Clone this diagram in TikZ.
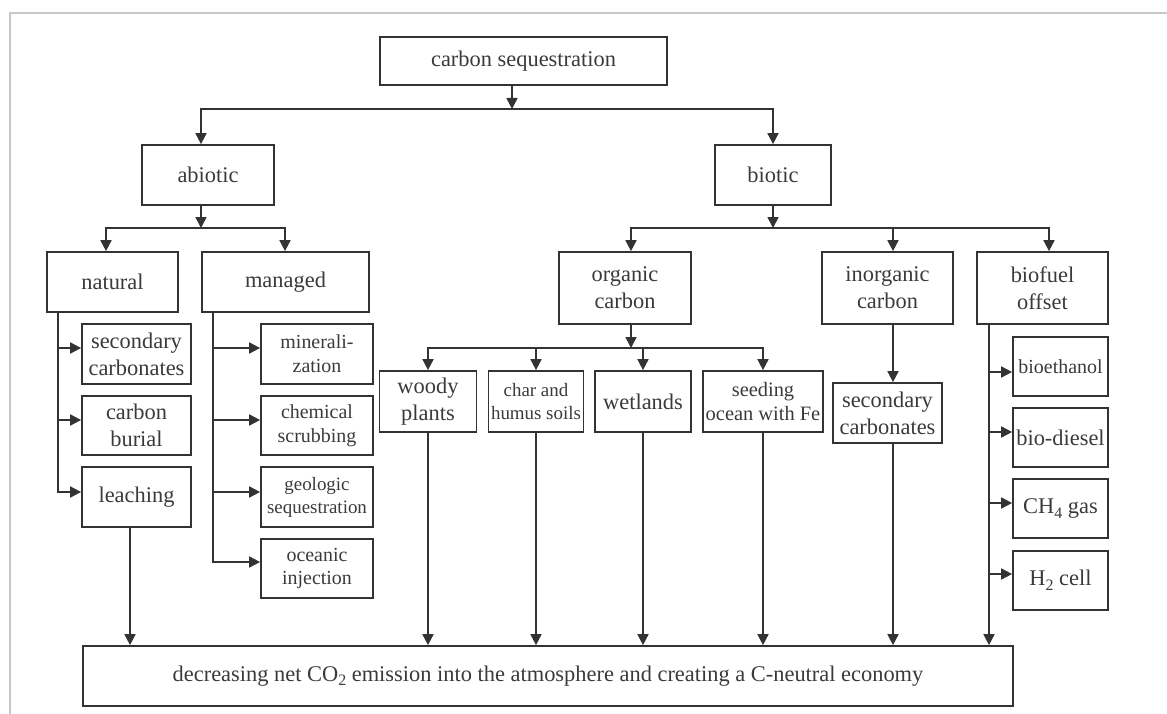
\documentclass[tikz,border=0pt]{standalone}
\usepackage{fontspec}
\setmainfont{Liberation Serif}
\usetikzlibrary{arrows.meta}
\definecolor{linec}{HTML}{333333}
\definecolor{textc}{HTML}{3A3A3A}
\definecolor{framec}{HTML}{C8C8C8}
% chemical subscript: a little larger and lower than \textsubscript
\newcommand{\chemsub}[1]{\raisebox{-0.45ex}{\fontsize{16}{16}\selectfont #1}}

\begin{document}
\begin{tikzpicture}[x=1bp,y=-1bp,
  box/.style={draw=linec, line width=1.7bp, inner sep=0pt, align=center,
    text=textc, font=\fontsize{22.5}{27}\selectfont},
  sz/.style 2 args={minimum width=#1bp, minimum height=#2bp},
  smalltext/.style={font=\fontsize{20}{24}\selectfont},
  tinytext/.style={font=\fontsize{19}{23}\selectfont},
  link/.style={draw=linec, line width=1.7bp, line cap=rect},
  arr/.style={link, -{Triangle[length=11bp,width=11bp]}},
  ]
\useasboundingbox (0,0) rectangle (1167,714);

% page frame
\draw[framec, line width=2bp] (10,714) -- (10,13) -- (1167,13);

% ---------- boxes ----------
\node[box, sz={287}{48}] (root) at (523.5,61) {carbon sequestration};

\node[box, sz={132}{60}] (abiotic) at (208,175) {abiotic};
\node[box, sz={116}{60}] (biotic) at (773,175) {biotic};

\node[box, sz={131}{60}] (natural) at (112.5,282) {natural};
\node[box, sz={167}{60}] (managed) at (285.5,282) {managed};

\node[box, sz={109}{60}] (sc1) at (136.5,354) {secondary\\carbonates};
\node[box, sz={109}{59}] (burial) at (136.5,425.5) {carbon\\burial};
\node[box, sz={109}{60}] (leaching) at (136.5,497) {leaching};

\node[box, smalltext, sz={112}{60}] (mineral) at (317,354) {minerali-\\zation};
\node[box, smalltext, sz={112}{59}] (chem) at (317,425.5) {chemical\\scrubbing};
\node[box, tinytext, sz={112}{60}] (geol) at (317,497) {geologic\\sequestration};
\node[box, smalltext, sz={112}{59}] (ocean) at (317,568.5) {oceanic\\injection};

\node[box, sz={132}{72}] (organic) at (625,288) {organic\\carbon};
\node[box, sz={131}{72}] (inorganic) at (887.5,288) {inorganic\\carbon};
\node[box, sz={131}{72}] (biofuel) at (1042.5,288) {biofuel\\offset};

\node[box, sz={97}{61}] (woody) at (428,401.5) {woody\\plants};
\node[box, tinytext, sz={95}{61}] (char) at (536,401.5) {char and\\humus soils};
\node[box, sz={96}{61}] (wetlands) at (643,401.5) {wetlands};
\node[box, font=\fontsize{20.5}{24}\selectfont, sz={120}{61}] (seeding) at (763,401.5) {seeding\\ocean with Fe};

\node[box, sz={109}{60}] (sc2) at (887.5,413) {secondary\\carbonates};

\node[box, smalltext, sz={95}{59}] (bioeth) at (1060.5,366.5) {bioethanol};
\node[box, sz={95}{59}] (biodiesel) at (1060.5,437.5) {bio-diesel};
\node[box, sz={95}{59}] (ch4) at (1060.5,508.5) {CH\chemsub{4} gas};
\node[box, sz={95}{59}] (h2) at (1060.5,580.5) {H\chemsub{2} cell};

\node[box, sz={930}{60}] (bottom) at (548,676)
  {decreasing net CO\chemsub{2} emission into the atmosphere and creating a C-neutral economy};

% ---------- junction points ----------
\coordinate (jTop) at (512,109);
\coordinate (jA) at (201,109);
\coordinate (jB) at (773,109);
\coordinate (jA2) at (201,228);
\coordinate (jNat) at (106,228);
\coordinate (jMan) at (285,228);
\coordinate (jB2) at (773,228);
\coordinate (jO1) at (631,228);
\coordinate (jI) at (893,228);
\coordinate (jF) at (1049,228);
\coordinate (jO) at (631,348);
\coordinate (tN1) at (58,348);
\coordinate (tN2) at (58,420);
\coordinate (tN3) at (58,492);
\coordinate (tM1) at (213,348);
\coordinate (tM2) at (213,420);
\coordinate (tM3) at (213,492);
\coordinate (tM4) at (213,562);
\coordinate (tF1) at (989,372);
\coordinate (tF2) at (989,432);
\coordinate (tF3) at (989,503);
\coordinate (tF4) at (989,574);
\coordinate (xL) at (130,600);

% ---------- connectors ----------
% top level
\draw[arr] (root.south -| jTop) -- (jTop);
\draw[link] (jA) -- (jB);
\draw[arr] (jA) -- (abiotic.north -| jA);
\draw[arr] (jB) -- (biotic.north -| jB);

% abiotic branch
\draw[arr] (abiotic.south -| jA2) -- (jA2);
\draw[link] (jNat) -- (jMan);
\draw[arr] (jNat) -- (natural.north -| jNat);
\draw[arr] (jMan) -- (managed.north -| jMan);

% natural
\draw[link] (natural.south -| tN1) -- (tN3);
\draw[arr] (tN1) -- (sc1.west |- tN1);
\draw[arr] (tN2) -- (burial.west |- tN2);
\draw[arr] (tN3) -- (leaching.west |- tN3);

% managed
\draw[link] (managed.south -| tM1) -- (tM4);
\draw[arr] (tM1) -- (mineral.west |- tM1);
\draw[arr] (tM2) -- (chem.west |- tM2);
\draw[arr] (tM3) -- (geol.west |- tM3);
\draw[arr] (tM4) -- (ocean.west |- tM4);

% biotic branch
\draw[arr] (biotic.south) -- (jB2);
\draw[link] (jO1) -- (jF);
\draw[arr] (jO1) -- (organic.north -| jO1);
\draw[arr] (jI) -- (inorganic.north -| jI);
\draw[arr] (jF) -- (biofuel.north -| jF);

% organic carbon
\draw[arr] (organic.south -| jO) -- (jO);
\draw[link] (woody.north |- jO) -- (seeding.north |- jO);
\draw[arr] (woody.north |- jO) -- (woody.north);
\draw[arr] (char.north |- jO) -- (char.north);
\draw[arr] (wetlands.north |- jO) -- (wetlands.north);
\draw[arr] (seeding.north |- jO) -- (seeding.north);

% inorganic carbon
\draw[arr] (inorganic.south -| jI) -- (sc2.north -| jI);

% biofuel offset
\draw[arr] (biofuel.south -| tF1) -- (bottom.north -| tF1);
\draw[arr] (tF1) -- (bioeth.west |- tF1);
\draw[arr] (tF2) -- (biodiesel.west |- tF2);
\draw[arr] (tF3) -- (ch4.west |- tF3);
\draw[arr] (tF4) -- (h2.west |- tF4);

% into the common outcome
\draw[arr] (leaching.south -| xL) -- (bottom.north -| xL);
\draw[arr] (woody.south) -- (bottom.north -| woody.south);
\draw[arr] (char.south) -- (bottom.north -| char.south);
\draw[arr] (wetlands.south) -- (bottom.north -| wetlands.south);
\draw[arr] (seeding.south) -- (bottom.north -| seeding.south);
\draw[arr] (sc2.south -| jI) -- (bottom.north -| jI);

\end{tikzpicture}
\end{document}
